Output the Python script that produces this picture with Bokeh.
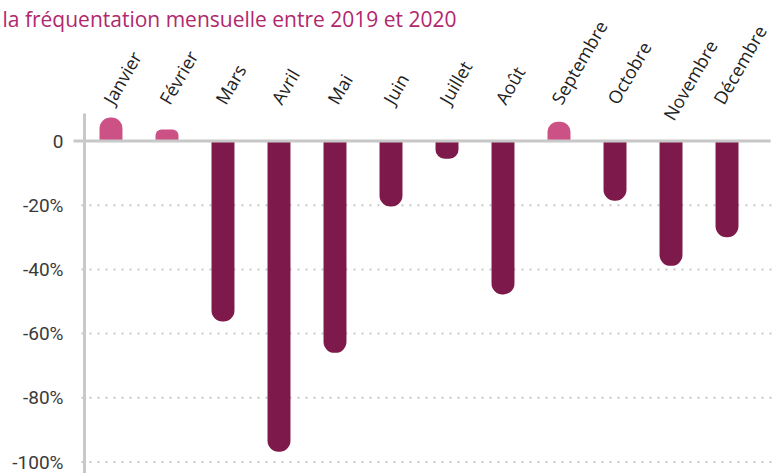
import math
from bokeh.plotting import figure
from bokeh.models import ColumnDataSource, Range1d
from bokeh.core.properties import value
from bokeh.embed import file_html
from bokeh.resources import INLINE

# ---- data -------------------------------------------------------------
months = ["Janvier", "Février", "Mars", "Avril", "Mai", "Juin", "Juillet",
          "Août", "Septembre", "Octobre", "Novembre", "Décembre"]
change = [7.3, 3.6, -56.2, -96.8, -66.0, -20.4, -5.5, -47.8, 6.0, -18.6, -38.9, -30.0]
y_ticks = [0, -20, -40, -60, -80, -100]
y_tick_labels = ["0", "-20%", "-40%", "-60%", "-80%", "-100%"]
title_text = "la fréquentation mensuelle entre 2019 et 2020"

# ---- styles / layout ---------------------------------------------------
PINK = "#cc5285"
WINE = "#7d1a4b"
GREY = "#c8c8c8"
TITLE_COL = "#b0286e"
W, H = 774, 473
X0, X1 = -1.973, 11.848          # visible index range
Y0, Y1 = -103.58, 43.77          # visible value range
PX_PER_UNIT = H / (Y1 - Y0)
AXIS_X = -0.473                  # position of the vertical axis line
GRID_X0 = -0.527
ZERO_X0, ZERO_X1 = -0.67, 11.78
TICK_LABEL_X = -0.848
BAR_W = 0.41
MAX_R = 11

idx = list(range(len(months)))

p = figure(width=W, height=H, output_backend="svg", toolbar_location=None,
           x_range=Range1d(X0, X1), y_range=Range1d(Y0, Y1),
           x_axis_location=None, y_axis_location=None, title=None,
           min_border_left=0, min_border_right=0, min_border_top=0, min_border_bottom=0,
           outline_line_color=None)
p.grid.visible = False

# dotted horizontal grid
grid_vals = [t for t in y_ticks if t != 0]
p.segment(x0=[GRID_X0] * len(grid_vals), y0=grid_vals,
          x1=[X1] * len(grid_vals), y1=grid_vals,
          line_color=GREY, line_width=2, line_dash="2 6")

# y tick labels
p.text(x=[TICK_LABEL_X] * len(y_ticks), y=y_ticks, text=y_tick_labels,
       text_align="right", text_baseline="middle",
       text_font=value("Roboto"), text_font_size="19px", text_color="#3a3a3a")

# vertical axis line
p.segment(x0=[AXIS_X], y0=[8.57], x1=[AXIS_X], y1=[Y0],
          line_color=GREY, line_width=3)

# bars (rounded at their outer end; radius limited by the bar's height)
for i, v in zip(idx, change):
    r = int(min(MAX_R, round(abs(v) * PX_PER_UNIT / 2)))
    src = ColumnDataSource(dict(x=[i], v=[v]))
    if v >= 0:
        p.vbar(x="x", top="v", bottom=0, width=BAR_W, source=src,
               fill_color=PINK, line_color=None, border_radius=(r, r, 0, 0))
    else:
        p.vbar(x="x", top=0, bottom="v", width=BAR_W, source=src,
               fill_color=WINE, line_color=None, border_radius=(0, 0, r, r))

# zero line
p.segment(x0=[ZERO_X0], y0=[0], x1=[ZERO_X1], y1=[0], line_color=GREY, line_width=3)

# month labels
label_dy = [16 if m == "Novembre" else 0 for m in months]
label_dx = [-9 if m == "Décembre" else -3 for m in months]
p.text(x=idx, y=[12.0] * len(months), text=months, angle=math.radians(60),
       text_align="left", text_baseline="alphabetic", x_offset=label_dx, y_offset=label_dy,
       text_font=value("Open Sans"), text_font_size="18px", text_color="#222222")

# title
p.text(x=[X0], y=[Y1], text=[title_text], x_offset=2, y_offset=18,
       text_align="left", text_baseline="alphabetic",
       text_font=value("Open Sans"), text_font_size="21px", text_color=TITLE_COL)

open("out.html", "w").write(file_html(p, INLINE))
